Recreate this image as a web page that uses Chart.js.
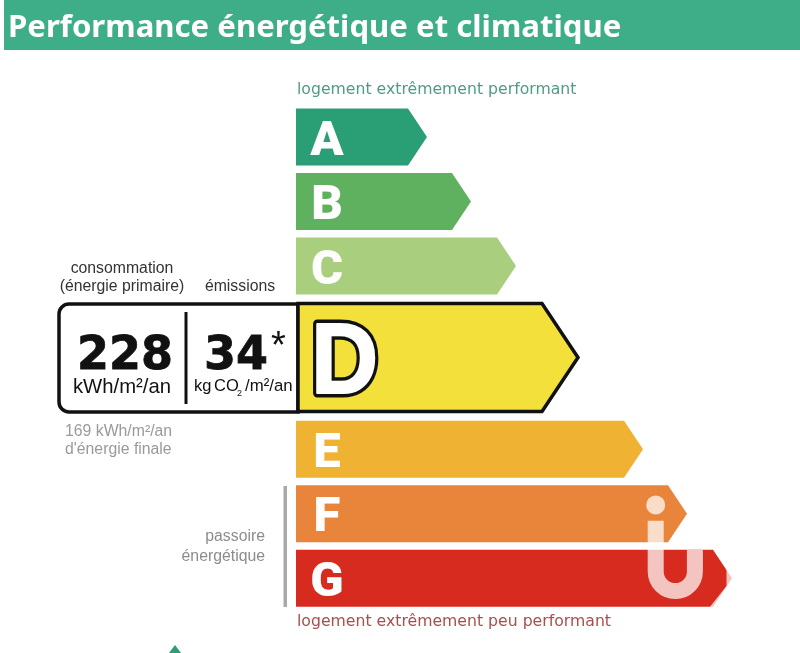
<!DOCTYPE html>
<html>
<head>
<meta charset="utf-8">
<style>
  html, body { margin: 0; padding: 0; background: #fff; }
  #wrap { width: 800px; height: 653px; }
</style>
</head>
<body>
<div id="wrap"><canvas id="myChart" width="800" height="653"></canvas></div>
<script src="https://cdn.jsdelivr.net/npm/chart.js@4"></script>
<script>
// data
const categories = ['A', 'B', 'C', 'D', 'E', 'F', 'G'];
const barLengths = [131, 175, 220, 282, 347, 391, 436];
const barColors = ['#2A9E74', '#5FB05F', '#A8CE7E', '#F3E03B', '#EFB233', '#E8853B', '#D62B1E'];
const currentClass = 'D';
const consumption = '228';
const emissions = '34';
const topLabel = 'logement extrêmement performant';
const bottomLabel = 'logement extrêmement peu performant';

const SANS = '"Liberation Sans"';
const DEJA = '"DejaVu Sans"';
const TIP = 19, TIP_CURRENT = 36;

// the current class row is taller, so the rows after it are pushed down
function rowCenter(i) {
    const cur = categories.indexOf(currentClass);
    return i + (i >= cur ? 0.42 : 0) + (i > cur ? 0.42 : 0);
}
const rows = categories.map((c, i) => ({ x: barLengths[i], y: rowCenter(i), c: c }));
const otherRows = rows.filter(r => r.c !== currentClass);
const currentRows = rows.filter(r => r.c === currentClass);
const colorOf = c => barColors[categories.indexOf(c)];

// bars are arrows on this label
Chart.BarElement.prototype.draw = function (ctx) {
    const p = this.getProps(['x', 'y', 'base', 'height']);
    const o = this.options;
    const bw = o.borderWidth || 0;
    const tip = bw ? TIP_CURRENT : TIP;
    const left = p.base + (bw ? 2 : 0);
    const top = p.y - p.height / 2, bottom = p.y + p.height / 2;
    ctx.save();
    ctx.beginPath();
    ctx.moveTo(left, top);
    ctx.lineTo(p.x - tip, top);
    ctx.lineTo(p.x, p.y);
    ctx.lineTo(p.x - tip, bottom);
    ctx.lineTo(left, bottom);
    ctx.closePath();
    ctx.fillStyle = o.backgroundColor;
    ctx.fill();
    if (bw) {
        ctx.lineWidth = bw;
        ctx.strokeStyle = o.borderColor;
        ctx.lineJoin = 'miter';
        ctx.stroke();
    }
    ctx.restore();
};

function put(ctx, text, x, y, font, color, align) {
    ctx.font = font;
    ctx.fillStyle = color;
    ctx.textAlign = align || 'left';
    ctx.textBaseline = 'alphabetic';
    ctx.fillText(text, x, y);
}

const backdrop = {
    id: 'backdrop',
    beforeDraw(chart) {
        const ctx = chart.ctx;
        ctx.save();
        ctx.fillStyle = '#3DAE87';
        ctx.fillRect(4, 0, 796, 50);
        ctx.restore();
    },
    beforeDatasetsDraw(chart) {
        const ctx = chart.ctx;
        ctx.save();
        // value box left of the current class
        ctx.beginPath();
        ctx.roundRect(59, 304, 239, 108, [10, 0, 0, 10]);
        ctx.fillStyle = '#fff';
        ctx.fill();
        ctx.lineWidth = 3.5;
        ctx.strokeStyle = '#111';
        ctx.stroke();
        ctx.restore();
    }
};

const labels = {
    id: 'labels',
    afterDatasetsDraw(chart) {
        const ctx = chart.ctx;
        ctx.save();

        // class letters
        rows.forEach(r => {
            if (r.c === currentClass) return;
            const y = chart.scales.y.getPixelForValue(r.y);
            put(ctx, r.c, 327, y + 17.5, '900 49px Roboto', '#fff', 'center');
        });
        // current class letter, white body with a black outline
        ctx.save();
        ctx.translate(311, 393);
        ctx.scale(0.93, 1);
        ctx.font = 'bold 100px ' + SANS;
        ctx.textAlign = 'left';
        ctx.lineJoin = 'round';
        ctx.strokeStyle = '#111';
        ctx.lineWidth = 9;
        ctx.strokeText(currentClass, 0, 0);
        ctx.strokeStyle = '#fff';
        ctx.lineWidth = 2;
        ctx.strokeText(currentClass, 0, 0);
        ctx.fillStyle = '#fff';
        ctx.fillText(currentClass, 0, 0);
        ctx.restore();

        // box contents
        ctx.fillStyle = '#111';
        ctx.fillRect(184.5, 312, 3, 92);
        ctx.lineWidth = 0.8;
        ctx.strokeStyle = '#111';
        put(ctx, consumption, 125, 369, 'bold 46px ' + DEJA, '#111', 'center');
        ctx.strokeText(consumption, 125, 369);
        put(ctx, emissions, 236, 369, 'bold 46px ' + DEJA, '#111', 'center');
        ctx.strokeText(emissions, 236, 369);
        put(ctx, '*', 271, 358, '38px ' + SANS, '#111');
        put(ctx, 'kWh/m²/an', 122, 393, '20.3px ' + SANS, '#111', 'center');
        put(ctx, 'kg', 194, 391, '16.5px ' + SANS, '#111');
        put(ctx, 'CO', 214, 391, '16.5px ' + SANS, '#111');
        put(ctx, '2', 237, 396, '9px ' + SANS, '#111');
        put(ctx, '/m²/an', 245, 391, '16.8px ' + SANS, '#111');

        // captions
        put(ctx, 'consommation', 122, 273, '15.8px ' + SANS, '#333', 'center');
        put(ctx, '(énergie primaire)', 122, 291, '15.8px ' + SANS, '#333', 'center');
        put(ctx, 'émissions', 240, 291, '15.8px ' + SANS, '#333', 'center');
        put(ctx, '169 kWh/m²/an', 65, 436, '15.8px ' + SANS, '#9A9A9A');
        put(ctx, "d'énergie finale", 65, 454, '15.8px ' + SANS, '#9A9A9A');
        put(ctx, 'passoire', 265, 541, '15.8px ' + SANS, '#8C8C8C', 'right');
        put(ctx, 'énergétique', 265, 561, '15.8px ' + SANS, '#8C8C8C', 'right');
        put(ctx, topLabel, 297, 94, '15.7px ' + DEJA, '#4F9C86');
        put(ctx, bottomLabel, 297, 626, '15.7px ' + DEJA, '#A94E50');

        // passoire bracket
        ctx.fillStyle = '#A8A8A8';
        ctx.fillRect(283.5, 486, 3.5, 121);

        // small triangle cut by the bottom edge
        ctx.fillStyle = '#2A9E74';
        ctx.beginPath();
        ctx.moveTo(175, 645);
        ctx.lineTo(181, 653);
        ctx.lineTo(169, 653);
        ctx.closePath();
        ctx.fill();

        // watermark
        ctx.globalAlpha = 0.72;
        ctx.fillStyle = '#fff';
        ctx.strokeStyle = '#fff';
        ctx.beginPath();
        ctx.arc(655.7, 505, 9.5, 0, Math.PI * 2);
        ctx.fill();
        ctx.lineWidth = 16;
        ctx.lineCap = 'butt';
        ctx.beginPath();
        ctx.moveTo(655.7, 520.7);
        ctx.lineTo(655.7, 571.5);
        ctx.arc(675.3, 571.5, 19.6, Math.PI, 0, true);
        ctx.lineTo(694.9, 550);
        ctx.stroke();
        // washed out edge of the last arrow
        ctx.beginPath();
        ctx.moveTo(726.5, 569);
        ctx.lineTo(733, 578.5);
        ctx.lineTo(714, 608);
        ctx.lineTo(709, 608);
        ctx.lineTo(726.5, 586);
        ctx.closePath();
        ctx.fill();
        ctx.restore();
    }
};

const chart = new Chart(document.getElementById('myChart'), {
    type: 'bar',
    data: {
        datasets: [{
            data: otherRows,
            backgroundColor: otherRows.map(r => colorOf(r.c)),
            barThickness: 57,
            grouped: false,
        }, {
            data: currentRows,
            backgroundColor: currentRows.map(r => colorOf(r.c)),
            borderColor: '#111',
            borderWidth: 3.5,
            barThickness: 108,
            grouped: false,
        }],
    },
    options: {
        indexAxis: 'y',
        responsive: false,
        animation: false,
        events: [],
        layout: { padding: { left: 8 } },
        scales: {
            x: { type: 'linear', display: false, min: -288, max: 504 },
            y: { type: 'linear', display: false, reverse: true, offset: false, min: -1.349, max: 8 },
        },
        plugins: {
            legend: { display: false },
            tooltip: { enabled: false },
            title: {
                display: true,
                text: 'Performance énergétique et climatique',
                align: 'start',
                color: '#fff',
                font: { family: '"Noto Sans"', size: 31.15, weight: 'bold', lineHeight: 1 },
                padding: { top: 13, bottom: 5.85 },
            },
        },
    },
    plugins: [backdrop, labels],
});
</script>
</body>
</html>
